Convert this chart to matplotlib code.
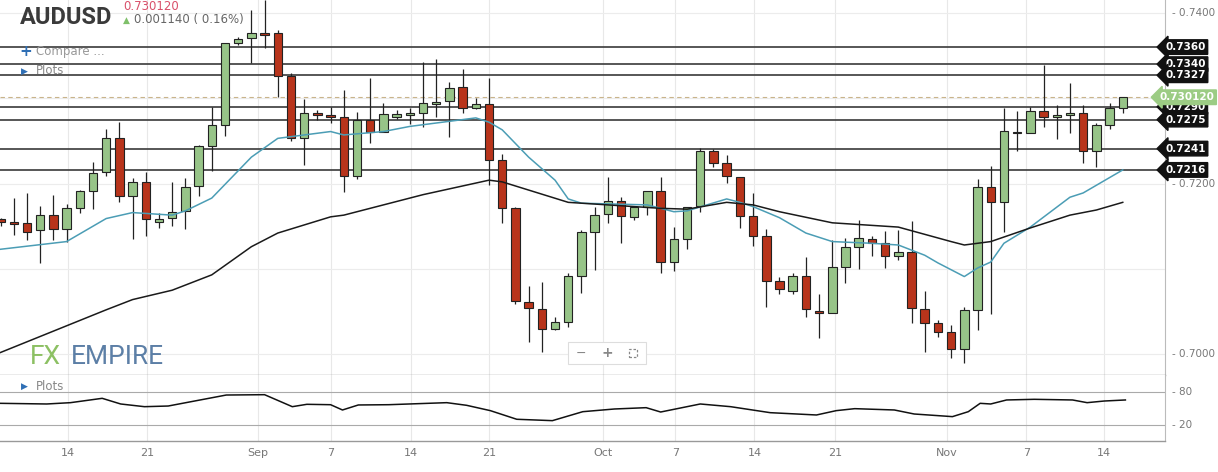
import matplotlib
matplotlib.use("Agg")
import matplotlib.pyplot as plt
import matplotlib.transforms as mtr
from matplotlib.patches import Rectangle

opens = [.7158,.7155,.7154,.7145,.7163,.7147,.7171,.7191,.7214,.7253,
         .7186,.7202,.7155,.7160,.7168,.7197,.7244,.7269,.7365,.7371,
         .7377,.7377,.7326,.7253,.7283,.7280,.7278,.7209,.7274,.7261,
         .7278,.7280,.7283,.7293,.7297,.7313,.7289,.7293,.7228,.7171,
         .7061,.7053,.7030,.7038,.7092,.7143,.7164,.7179,.7161,.7173,
         .7191,.7108,.7135,.7174,.7238,.7224,.7208,.7162,.7139,.7086,
         .7074,.7092,.7051,.7048,.7102,.7126,.7135,.7130,.7115,.7120,
         .7053,.7036,.7026,.7006,.7052,.7196,.7178,.7261,.7259,.7285,
         .7278,.7280,.7283,.7238,.7269,.7289]
closes = [.7155,.7153,.7143,.7163,.7147,.7171,.7191,.7212,.7253,.7186,
          .7202,.7159,.7159,.7167,.7196,.7244,.7269,.7365,.7370,.7377,
          .7374,.7326,.7253,.7283,.7280,.7278,.7209,.7274,.7261,.7281,
          .7282,.7283,.7295,.7296,.7312,.7289,.7293,.7228,.7171,.7062,
          .7054,.7030,.7038,.7092,.7143,.7163,.7179,.7162,.7173,.7191,
          .7108,.7135,.7173,.7238,.7224,.7209,.7162,.7139,.7086,.7077,
          .7092,.7053,.7048,.7102,.7126,.7136,.7130,.7115,.7120,.7054,
          .7037,.7026,.7006,.7052,.7196,.7178,.7262,.7259,.7285,.7278,
          .7280,.7283,.7238,.7269,.7289,.7301]
highs = [.7160,.7183,.7189,.7174,.7187,.7176,.7193,.7225,.7264,.7272,
         .7207,.7214,.7165,.7202,.7207,.7245,.7290,.7365,.7372,.7403,
         .7415,.7380,.7330,.7299,.7286,.7290,.7310,.7284,.7324,.7295,
         .7286,.7289,.7343,.7346,.7319,.7334,.7300,.7324,.7235,.7173,
         .7080,.7085,.7044,.7095,.7145,.7173,.7208,.7184,.7173,.7191,
         .7208,.7149,.7173,.7242,.7240,.7233,.7208,.7189,.7147,.7091,
         .7095,.7114,.7071,.7134,.7136,.7157,.7138,.7144,.7145,.7156,
         .7074,.7040,.7034,.7055,.7205,.7221,.7289,.7285,.7290,.7339,
         .7292,.7318,.7292,.7271,.7295,.7301]
lows = [.7150,.7140,.7134,.7107,.7134,.7131,.7166,.7170,.7209,.7178,
        .7135,.7139,.7148,.7150,.7147,.7185,.7215,.7256,.7362,.7341,
        .7359,.7302,.7250,.7222,.7274,.7271,.7190,.7205,.7247,.7260,
        .7276,.7270,.7266,.7278,.7255,.7283,.7287,.7198,.7154,.7059,
        .7014,.7003,.7028,.7032,.7072,.7099,.7154,.7130,.7157,.7163,
        .7095,.7097,.7123,.7167,.7220,.7201,.7148,.7127,.7055,.7071,
        .7071,.7044,.7019,.7048,.7084,.7100,.7115,.7101,.7110,.7037,
        .7003,.7020,.6996,.6990,.7028,.7047,.7143,.7238,.7259,.7266,
        .7252,.7259,.7224,.7220,.7264,.7283]

ma_fast_idx = [0,5,8,10,13,14,16,19,21,22,25,26,29,31,36,37,38,40,42,43,44,49,51,52,55,56,57,59,61,63,66,68,70,71,73,74,75,76,78,81,82,85]
ma_fast = [.7123,.7132,.7159,.7166,.7163,.7168,.7183,.7231,.7253,.7255,.7261,.7257,.7261,.7267,.7277,.7272,.7263,.7231,.7204,.7182,.7177,.7175,.7167,.7168,.7182,.7178,.7173,.7160,.7142,.7132,.7130,.7128,.7116,.7107,.7091,.7101,.7108,.7130,.7149,.7184,.7189,.7216]
ma_slow_idx = [0,8,10,13,16,19,21,25,26,32,37,38,43,46,50,52,55,57,59,63,68,72,73,75,78,81,83,85]
ma_slow = [.7002,.7052,.7064,.7075,.7093,.7126,.7142,.7161,.7163,.7187,.7204,.7202,.7178,.7175,.7171,.7170,.7178,.7175,.7167,.7154,.7149,.7132,.7128,.7132,.7148,.7163,.7169,.7178]

osc_idx = [0,3.5,5.3,7.7,9.1,10.9,12.7,14.7,17.1,20,22.1,23.2,25,25.9,27.1,29.4,33.8,35.3,37.1,39.1,41.8,44.1,46.5,48.9,50,53,55.3,58.3,61.8,63.3,64.7,67.7,69.2,72.1,73.3,74.2,75,76.2,78.3,81.2,82.3,83.6,85.2]
osc = [59.4,58.2,60.6,68.5,58.2,53.3,54.5,63.6,74.5,75.1,53.3,57.6,56.9,47.3,56.4,56.9,60.6,55.8,46.1,30.4,27.9,44.2,49.1,51.5,43.6,58.2,53.3,42.4,38.2,46.1,49.7,47.3,40.0,35.2,44.2,59.4,58.2,65.5,66.7,65.5,60.6,63.6,65.5]

levels = [0.7360, 0.7340, 0.7327, 0.7290, 0.7275, 0.7241, 0.7216]
last_price = 0.730120
tick_pos = [5.08, 11.1, 19.5, 25.0, 31.1, 37.0, 45.6, 51.1, 57.1, 63.2, 71.7, 77.7, 83.6]
tick_lab = ["14", "21", "Sep", "7", "14", "21", "Oct", "7", "14", "21", "Nov", "7", "14"]

W, H = 1218, 472
fig = plt.figure(figsize=(W/100, H/100), dpi=100)
fig.patch.set_facecolor("white")
ax = fig.add_axes([0, 1-375/H, 1165/W, 375/H])
ax2 = fig.add_axes([0, 1-441/H, 1165/W, 66/H])
xl = (-0.04, 88.2)
for a in (ax, ax2):
    a.set_xlim(*xl)
    for s in a.spines.values():
        s.set_visible(False)
    a.tick_params(length=0)
    for t in tick_pos:
        a.axvline(t, color="#e8e8e8", lw=0.8, zorder=0)
ax.set_ylim(0.69756, 0.74152)
ax2.set_ylim(-9.1, 110.9)

for g in [0.70, 0.71, 0.72, 0.73, 0.74]:
    ax.axhline(g, color="#ececec", lw=0.8, zorder=0)

for i in range(len(opens)):
    o, c, h, l = opens[i], closes[i], highs[i], lows[i]
    up = c >= o
    col = "#97c488" if up else "#b8341b"
    ax.vlines(i, l, h, color="#222222", lw=0.9, zorder=2)
    lo, hi = min(o, c), max(o, c)
    hgt = max(hi - lo, 0.00012)
    ax.add_patch(Rectangle((i-0.32, lo), 0.64, hgt, facecolor=col, edgecolor="#222222", lw=0.8, zorder=3))

ax.plot(ma_fast_idx, ma_fast, color="#4b9db5", lw=1.1, zorder=4)
ax.plot(ma_slow_idx, ma_slow, color="#1a1a1a", lw=1.1, zorder=4)

for lv in levels:
    ax.axhline(lv, color="#3a3a3a", lw=1.2, zorder=1)
ax.axhline(last_price, color="#c9b48a", lw=0.8, ls=(0, (4, 3)), zorder=1)

ax.set_yticks([])
ax.set_xticks([])
tr = mtr.blended_transform_factory(ax.transAxes, ax.transData)
for v in [0.74, 0.72, 0.70]:
    ax.text(1.006, v, "- %.4f" % v, transform=tr, fontsize=7.5, color="#777777", va="center", ha="left", clip_on=False)
for lv in levels:
    ax.text(1.0, lv, "%.4f" % lv, transform=tr, fontsize=7.5, color="white", fontweight="bold", va="center", ha="left",
            bbox=dict(boxstyle="larrow,pad=0.22", fc="#111111", ec="#111111"), clip_on=False, zorder=10)
ax.text(0.995, last_price, "%.6f" % last_price, transform=tr, fontsize=7.5, color="white", fontweight="bold", va="center", ha="left",
        bbox=dict(boxstyle="larrow,pad=0.22", fc="#9ccc84", ec="#9ccc84"), clip_on=False, zorder=11)
ax.plot([1, 1], [0, 1], transform=ax.transAxes, color="#bbbbbb", lw=0.8, clip_on=False)
ax2.plot([1, 1], [0, 1], transform=ax2.transAxes, color="#bbbbbb", lw=0.8, clip_on=False)
ax.plot([0, 1], [0, 0], transform=ax.transAxes, color="#999999", lw=1, clip_on=False)
ax2.plot([0, 1], [0, 0], transform=ax2.transAxes, color="#999999", lw=1, clip_on=False)

ax2.plot(osc_idx, osc, color="#111111", lw=1.1)
for g in [20, 80]:
    ax2.axhline(g, color="#aaaaaa", lw=0.8)
ax2.set_yticks([])
tr2 = mtr.blended_transform_factory(ax2.transAxes, ax2.transData)
for g in [20, 80]:
    ax2.text(1.006, g, "- %d" % g, transform=tr2, fontsize=7.5, color="#777777", va="center", ha="left", clip_on=False)
ax2.set_xticks(tick_pos)
ax2.set_xticklabels(tick_lab, fontsize=8, color="#777777")
ax2.tick_params(axis="x", pad=5)

# header texts
fig.text(20/W, 1-17/H, "AUDUSD", fontsize=17, fontweight="bold", color="#3a3a3a", va="center", ha="left", family="Roboto")
fig.text(123/W, 1-7/H, "0.730120", fontsize=8.5, color="#d9506a", va="center", ha="left")
fig.text(123/W, 1-20/H, "\u25B2", fontsize=6.5, color="#7fc06a", va="center", ha="left")
fig.text(134/W, 1-20/H, "0.001140 ( 0.16%)", fontsize=8.5, color="#666666", va="center", ha="left")
fig.text(19/W, 1-52/H, "+", fontsize=11, color="#2f6fb5", fontweight="bold", va="center", ha="left")
fig.text(36/W, 1-52/H, "Compare ...", fontsize=8.5, color="#999999", va="center", ha="left")
fig.text(21/W, 1-71/H, "\u25B6", fontsize=6.5, color="#2f6fb5", va="center", ha="left")
fig.text(36/W, 1-71/H, "Plots", fontsize=8.5, color="#888888", va="center", ha="left")
fig.text(21/W, 1-386/H, "\u25B6", fontsize=6.5, color="#2f6fb5", va="center", ha="left")
fig.text(36/W, 1-386/H, "Plots", fontsize=8.5, color="#888888", va="center", ha="left")
fig.text(30/W, 1-357/H, "FX", fontsize=19, color="#8cc063", va="center", ha="left", family="Roboto")
fig.text(71/W, 1-357/H, "EMPIRE", fontsize=19, color="#5c7fa6", va="center", ha="left", family="Roboto")

# zoom control box
fig.patches.append(Rectangle((568/W, 1-364/H), 78/W, 22/H, transform=fig.transFigure,
                             fc="white", ec="#dddddd", lw=0.8, zorder=20))
fig.text(581/W, 1-353/H, "\u2212", fontsize=9, color="#888888", va="center", ha="center", zorder=21)
fig.text(607/W, 1-353/H, "+", fontsize=10, color="#888888", va="center", ha="center", fontweight="bold", zorder=21)
fig.patches.append(Rectangle((629/W, 1-357/H), 8/W, 8/H, transform=fig.transFigure,
                             fc="none", ec="#888888", lw=0.9, ls=(0, (2, 1.5)), zorder=21))

fig.savefig("out.png", dpi=100)
